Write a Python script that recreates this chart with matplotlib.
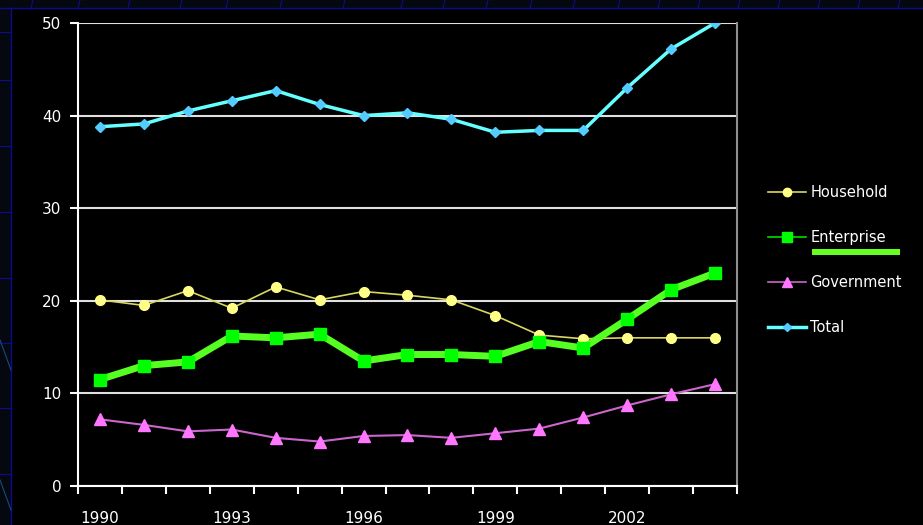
import matplotlib
matplotlib.use("Agg")
import matplotlib.pyplot as plt
from matplotlib.patches import Rectangle
from matplotlib.lines import Line2D

# data
years = list(range(1990, 2005))
household = [20.1, 19.5, 21.1, 19.2, 21.5, 20.1, 21.0, 20.6, 20.1, 18.4, 16.3, 15.9, 16.0, 16.0, 16.0]
enterprise = [11.5, 13.0, 13.4, 16.2, 16.0, 16.4, 13.5, 14.2, 14.2, 14.0, 15.6, 14.9, 18.0, 21.2, 23.0]
government = [7.2, 6.6, 5.9, 6.1, 5.2, 4.8, 5.4, 5.5, 5.2, 5.7, 6.2, 7.4, 8.7, 9.9, 11.0]
total = [38.8, 39.1, 40.5, 41.6, 42.7, 41.2, 40.0, 40.3, 39.6, 38.2, 38.4, 38.4, 43.0, 47.2, 50.0]
year_labels = [1990, 1993, 1996, 1999, 2002]

W, H = 923, 525
fig = plt.figure(figsize=(W / 100, H / 100), dpi=100, facecolor="#05080f")

# slide background: navy frame with thin blue lines
bg = fig.add_axes([0, 0, 1, 1])
bg.set_xlim(0, W)
bg.set_ylim(H, 0)
bg.axis("off")
bg.add_patch(Rectangle((11, 8), W - 11, H - 8, facecolor="black", edgecolor="none"))
bg.plot([11, 11], [8, H], color="#0c0c90", lw=1)
bg.plot([0, W], [8, 8], color="#0c0c90", lw=1)
for y in [32, 80, 146, 212, 278, 343, 408, 474]:
    bg.plot([0, 11], [y, y], color="#0c0c90", lw=0.8)
for x in [33, 80, 130, 182, 228, 282, 345, 403, 445, 488, 532, 575, 620, 660, 700, 740, 780, 820, 860, 900]:
    bg.plot([x, x - 2], [0, 8], color="#0c0c90", lw=0.8)
bg.plot([0, 11], [340, 370], color="#164a80", lw=0.8)
bg.plot([0, 11], [480, 510], color="#164a80", lw=0.8)

ax = fig.add_axes([78 / W, 1 - 486 / H, (737 - 78) / W, (486 - 23) / H])
ax.set_facecolor("black")

ax.plot(years, total, color="#66ffff", lw=2.5, marker="D", ms=5,
        mfc="#55ccff", mec="#55ccff", label="Total", zorder=3)
ax.plot(years, household, color="#d8d860", lw=1.2, marker="o", ms=7,
        mfc="#ffff88", mec="#ffff88", label="Household", zorder=4)
ax.plot(years, government, color="#cc66cc", lw=1.5, marker="^", ms=8,
        mfc="#ff77ff", mec="#ff77ff", label="Government", zorder=4)
ax.plot(years, enterprise, color="#55ff22", lw=5, marker="s", ms=8,
        mfc="#00ff00", mec="#00ff00", label="Enterprise", zorder=5)

ax.set_xlim(1989.5, 2004.5)
ax.set_ylim(0, 50)
ax.set_yticks([0, 10, 20, 30, 40, 50])
ax.yaxis.grid(True, color="#e0e0e0", lw=1.5)
ax.set_axisbelow(True)

ax.set_xticks(year_labels)
ax.set_xticks([y + 0.5 for y in range(1989, 2005)], minor=True)
ax.tick_params(axis="x", which="major", length=0, pad=18, colors="white", labelsize=11)
ax.tick_params(axis="x", which="minor", length=6, width=1.5, color="white", direction="out")
ax.tick_params(axis="y", length=6, width=1.5, color="white", colors="white", labelsize=11, pad=6)

for side in ["left", "bottom"]:
    ax.spines[side].set_color("white")
    ax.spines[side].set_linewidth(1.5)
ax.spines["right"].set_color("#909090")
ax.spines["right"].set_linewidth(1.5)
ax.spines["top"].set_visible(False)

# legend drawn by hand to match spacing
handles = {
    "Household": Line2D([], [], color="#d8d860", lw=1.2, marker="o", ms=6, mfc="#ffff88", mec="#ffff88"),
    "Enterprise": Line2D([], [], color="#00dd00", lw=1.2, marker="s", ms=7, mfc="#00ff00", mec="#00ff00"),
    "Government": Line2D([], [], color="#cc66cc", lw=1.2, marker="^", ms=7, mfc="#ff77ff", mec="#ff77ff"),
    "Total": Line2D([], [], color="#66ffff", lw=2.5, marker="D", ms=4, mfc="#55ccff", mec="#55ccff"),
}
leg = fig.legend(list(handles.values()), list(handles.keys()),
                 loc="upper left", bbox_to_anchor=(755 / W, 1 - 172 / H),
                 frameon=False, labelcolor="white", fontsize=10.5,
                 handlelength=2.6, handletextpad=0.3, labelspacing=2.05)

# green highlight under "Enterprise"
bg.add_patch(Rectangle((812, 249), 88, 6, facecolor="#66ff22", edgecolor="none", zorder=5))

fig.savefig("out.png", dpi=100, facecolor=fig.get_facecolor())
